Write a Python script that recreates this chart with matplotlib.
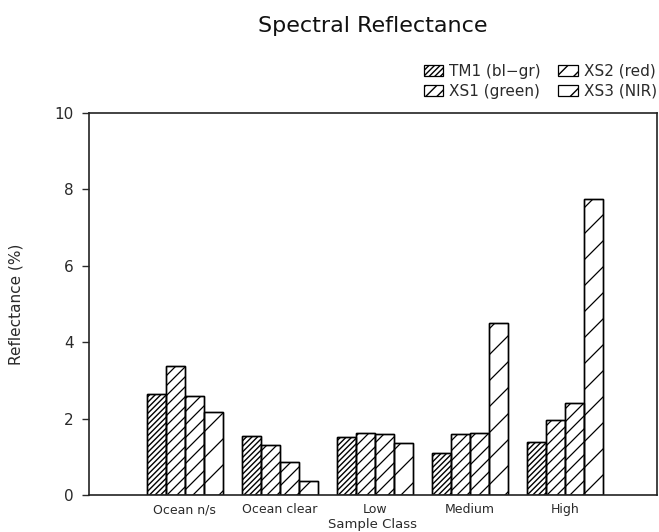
import numpy as np
import matplotlib
matplotlib.use("Agg")
import matplotlib.pyplot as plt
from matplotlib.patches import Patch
from matplotlib.lines import Line2D
from matplotlib.transforms import IdentityTransform

# data
classes = ["Ocean n/s", "Ocean clear", "Low", "Medium", "High"]
bands = ["TM1 (bl−gr)", "XS1 (green)", "XS2 (red)", "XS3 (NIR)"]
tm1 = [2.65, 1.55, 1.52, 1.10, 1.40]
xs1 = [3.38, 1.32, 1.62, 1.60, 1.97]
xs2 = [2.58, 0.86, 1.60, 1.62, 2.42]
xs3 = [2.17, 0.36, 1.37, 4.50, 7.75]

plt.rcParams["font.family"] = "DejaVu Sans"
plt.rcParams["hatch.linewidth"] = 1.0
txt = "#2a2a2a"

fig = plt.figure(figsize=(6.59, 5.32), dpi=100)
ax = fig.add_axes([0.135, 0.0695, 0.862, 0.718])
ax.set_xlim(-1.01, 4.97)
ax.set_ylim(0, 10)

x = np.arange(len(classes))
width = 0.2
series = [tm1, xs1, xs2, xs3]
# spacing (px) of the diagonal shading; None -> dense matplotlib hatch
spacing = [None, 10, 13, 26]
legend_hatch = ["//////", "///", "//", "/"]


def shade(bar, step):
    # diagonal lines drawn in pixel space, clipped to the bar outline
    (x0, y0), (x1, y1) = ax.transData.transform(
        [(bar.get_x(), bar.get_y()),
         (bar.get_x() + bar.get_width(), bar.get_y() + bar.get_height())])
    for c in np.arange(np.floor((y0 - x1) / step) * step, y1 - x0 + step, step):
        ln = Line2D([x0, x1], [x0 + c, x1 + c], color="black", lw=0.9,
                    transform=IdentityTransform(), zorder=1.5)
        ln.set_clip_path(bar.get_path(), bar.get_transform())
        ax.add_artist(ln)


for i, vals in enumerate(series):
    bars = ax.bar(x + (i - 1.5) * width, vals, width, facecolor="white",
                  edgecolor="black", linewidth=1.0,
                  hatch="//////" if spacing[i] is None else None, zorder=1)
    if spacing[i] is not None:
        for b in bars:
            shade(b, spacing[i])
    # outlines on top of the shading
    ax.bar(x + (i - 1.5) * width, vals, width, facecolor="none",
           edgecolor="black", linewidth=1.0, zorder=2)

for s in ax.spines.values():
    s.set_linewidth(1.2)
    s.set_color("#222222")

ax.set_yticks([0, 2, 4, 6, 8, 10])
ax.tick_params(axis="y", length=5, width=1, pad=6, labelsize=11, colors=txt)
ax.set_xticks(x)
ax.set_xticklabels(classes)
ax.tick_params(axis="x", length=0, pad=6, labelsize=9, colors=txt)

ax.set_ylabel("Reflectance (%)", fontsize=11, color=txt)
ax.yaxis.set_label_coords(-0.116, 0.5)
ax.set_xlabel("Sample Class", fontsize=9.5, color=txt)
ax.xaxis.set_label_coords(0.5, -0.078)
ax.xaxis.label.set_va("center")

fig.text(373 / 659, 1 - 26 / 532, "Spectral Reflectance", ha="center",
         va="center", fontsize=16, color="#111111")

handles = [Patch(facecolor="white", edgecolor="black", hatch=h, linewidth=0.9)
           for h in legend_hatch]
fig.legend(handles, bands, ncol=2, loc="upper right",
           bbox_to_anchor=(657 / 659, 1 - 64 / 532), frameon=False,
           fontsize=11, handlelength=1.3, handleheight=0.7,
           handletextpad=0.4, columnspacing=1.1, labelspacing=0.3,
           borderpad=0, borderaxespad=0, labelcolor=txt)

fig.savefig("out.png", dpi=100)
